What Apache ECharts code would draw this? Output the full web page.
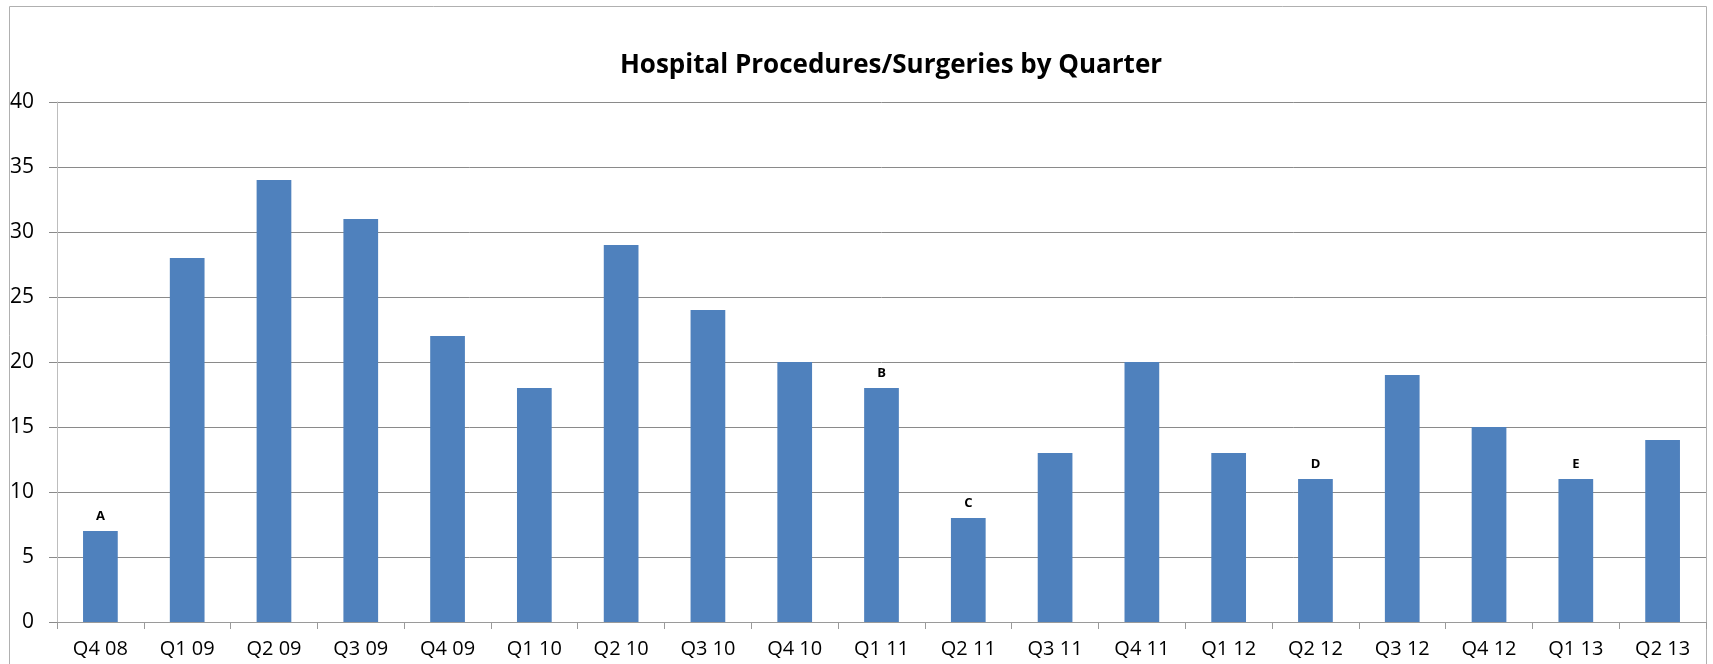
<!DOCTYPE html>
<html><head><meta charset="utf-8">
<script src="https://cdn.jsdelivr.net/npm/echarts@6/dist/echarts.min.js"></script>
<style>html,body{margin:0;padding:0;background:#fff}#c{width:1713px;height:664px}</style>
</head><body><div id="c"></div>
<script>
const categories = ['Q4 08','Q1 09','Q2 09','Q3 09','Q4 09','Q1 10','Q2 10','Q3 10','Q4 10','Q1 11','Q2 11','Q3 11','Q4 11','Q1 12','Q2 12','Q3 12','Q4 12','Q1 13','Q2 13'];
const values = [7,28,34,31,22,18,29,24,20,18,8,13,20,13,11,19,15,11,14];
const annotations = ['A','','','','','','','','','B','C','','','','D','','','E',''];
const titleText = 'Hospital Procedures/Surgeries by Quarter';

const chart = echarts.init(document.getElementById('c'));
chart.setOption({
  animation: false,
  backgroundColor: '#fff',
  title: { text: titleText, left: 886, top: 48, textAlign: 'center',
    textStyle: { fontFamily: 'Open Sans, Liberation Sans, sans-serif', fontWeight: 'bold', fontSize: 26, color: '#000' } },
  graphic: [{ type: 'rect', shape: { x: 9.5, y: 6.5, width: 1697, height: 680 }, style: { fill: 'none', stroke: '#b0b0b0', lineWidth: 1 }, silent: true }],
  grid: { left: 57, right: 7, top: 102, bottom: 42, containLabel: false },
  xAxis: { type: 'category', data: categories,
    axisLine: { lineStyle: { color: '#9a9a9a' } },
    axisTick: { show: true, length: 7, alignWithLabel: false, lineStyle: { color: '#9a9a9a' } },
    axisLabel: { color: '#000', fontSize: 20, fontFamily: 'Open Sans, Liberation Sans, sans-serif', margin: 17, interval: 0 } },
  yAxis: { type: 'value', min: 0, max: 40, interval: 5,
    axisLine: { show: true, lineStyle: { color: '#bdbdbd' } },
    axisTick: { show: true, length: 8, lineStyle: { color: '#8a8a8a' } },
    splitLine: { lineStyle: { color: '#8a8a8a', width: 1 } },
    axisLabel: { color: '#000', fontSize: 21, fontFamily: 'Open Sans, Liberation Sans, sans-serif', margin: 23 } },
  series: [{ type: 'bar', data: values, barWidth: '40%', itemStyle: { color: '#4f81bd' },
    label: { show: true, position: 'top', distance: 8, fontSize: 13, fontWeight: 'bold', color: '#000',
      fontFamily: 'Open Sans, Liberation Sans, sans-serif',
      formatter: p => annotations[p.dataIndex] } }]
});
</script></body></html>
